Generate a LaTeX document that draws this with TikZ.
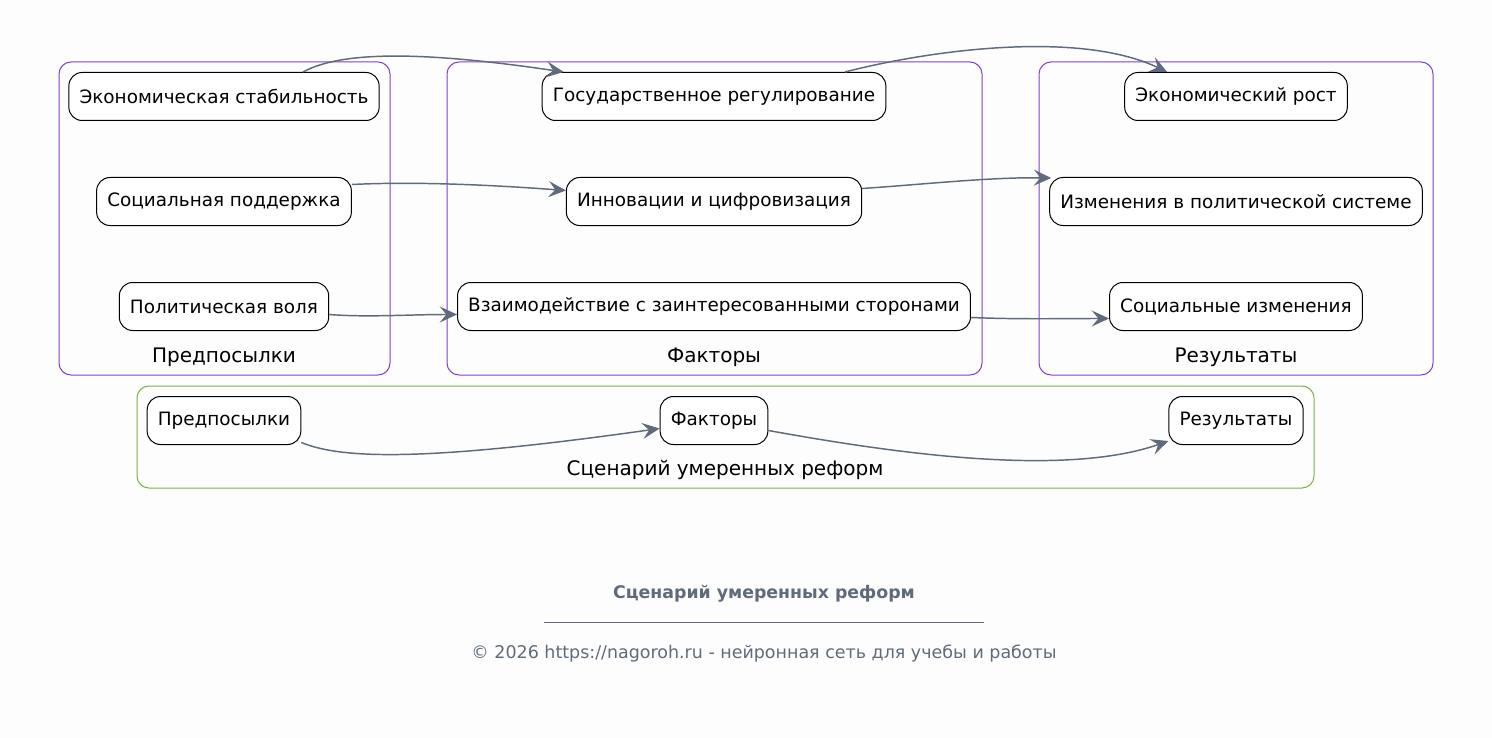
\documentclass[tikz,border=0pt]{standalone}
\usepackage{fontspec}
\setmainfont{DejaVu Sans}
\usetikzlibrary{arrows.meta,calc}
\definecolor{clusterpurple}{HTML}{7E3FCF}
\definecolor{clustergreen}{HTML}{7CB342}
\definecolor{edgegray}{HTML}{5F6B7A}
\definecolor{pagebg}{HTML}{FDFDFD}

\begin{document}
\begin{tikzpicture}[x=0.75pt,y=-0.75pt,
    box/.style={draw=black,line width=0.75pt,fill=white,rounded corners=10pt,
      minimum height=36pt,inner xsep=8pt,font=\fontsize{13.8}{16}\selectfont},
    cluster/.style={draw=clusterpurple,line width=0.75pt,rounded corners=9pt},
    clusterlabel/.style={font=\fontsize{15}{17}\selectfont},
    flow/.style={draw=edgegray,line width=1.1pt,
      -{Stealth[length=13pt,width=12pt,inset=5pt]}}]
      \fill[pagebg] (0,0) rectangle (1492,738);
      \useasboundingbox (0,0) rectangle (1492,738);
      \def\colA{224}
      \def\colB{714}
      \def\colC{1236}
      % clusters
      \draw[cluster] (59,62) rectangle (390,375);
      \draw[cluster] (447,62) rectangle (982,375);
      \draw[cluster] (1039,62) rectangle (1433,375);
      \draw[cluster,draw=clustergreen] (137,386) rectangle (1314,488);
      \node[clusterlabel] (lblpre) at (\colA,357) {Предпосылки};
      \node[clusterlabel] (lblfac) at (\colB,357) {Факторы};
      \node[clusterlabel] (lblres) at (\colC,357) {Результаты};
      \node[clusterlabel] (lblscen) at (725,470) {Сценарий умеренных реформ};
      % nodes
      \node[box] (econstab) at (\colA,96.5) {Экономическая стабильность};
      \node[box] (socsup) at (\colA,201.5) {Социальная поддержка};
      \node[box] (polwill) at (\colA,306.5) {Политическая воля};
      \node[box] (govreg) at (\colB,96.5) {Государственное регулирование};
      \node[box] (innov) at (\colB,201.5) {Инновации и цифровизация};
      \node[box] (interact) at (\colB,306.5) {Взаимодействие с заинтересованными сторонами};
      \node[box] (econgrowth) at (\colC,96.5) {Экономический рост};
      \node[box] (polchange) at (\colC,201.5) {Изменения в политической системе};
      \node[box] (socchange) at (\colC,306.5) {Социальные изменения};
      \node[box] (scpre) at (\colA,420.5) {Предпосылки};
      \node[box] (scfac) at (\colB,420.5) {Факторы};
      \node[box] (scres) at (\colC,420.5) {Результаты};
      % connectors
      \draw[flow] ($(econstab.north)+(79,0)$) .. controls +(40,-22) and +(-135,-20) .. ($(govreg.north west)+(22,0)$);
      \draw[flow] ($(govreg.north)+(131,0)$) .. controls +(85,-22) and +(-88,-42) .. ($(econgrowth.north west)+(43,0)$);
      \draw[flow] ($(socsup.east)+(0,-17)$) .. controls +(60,-3) and +(-80,-6) .. ($(innov.west)+(0,-11)$);
      \draw[flow] ($(innov.east)+(0,-13)$) .. controls +(60,-4) and +(-60,-1) .. ($(polchange.north west)+(2,1)$);
      \draw[flow] ($(polwill.east)+(0,8)$) .. controls +(40,3) and +(-50,0) .. ($(interact.west)+(0,8)$);
      \draw[flow] ($(interact.east)+(0,11)$) .. controls +(50,2) and +(-50,0) .. ($(socchange.west)+(0,12)$);
      \draw[flow] ($(scpre.east)+(0,22)$) .. controls +(39,16) and +(-240,34) .. ($(scfac.west)+(0,8)$);
      \draw[flow] ($(scfac.east)+(0,10)$) .. controls +(111,20) and +(-108,38) .. ($(scres.south west)+(0,-4)$);
      % footer
      \node[font=\bfseries\fontsize{13}{15}\selectfont,text=edgegray] (foottitle) at (764,594) {Сценарий умеренных реформ};
      \coordinate (ruleL) at (544,622);
      \coordinate (ruleR) at (984,622);
      \draw[edgegray,line width=0.75pt] (ruleL) -- (ruleR);
      \node[font=\fontsize{13.1}{15}\selectfont,text=edgegray] (footcopy) at (764,654) {© 2026 https://nagoroh.ru - нейронная сеть для учебы и работы};
    \end{tikzpicture}
\end{document}
